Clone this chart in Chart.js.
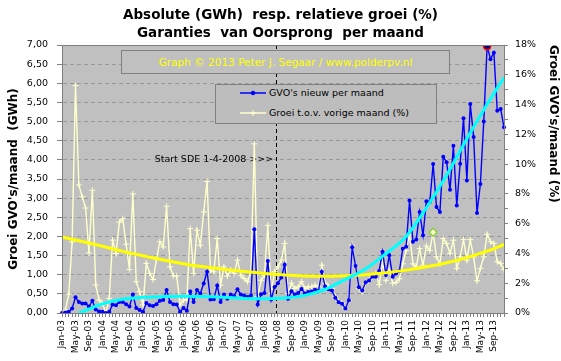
<!DOCTYPE html>
<html><head><meta charset="utf-8">
<script src="https://cdn.jsdelivr.net/npm/chart.js@4"></script>
<style>
html,body{margin:0;padding:0;background:#fff;}
#wrap{position:relative;width:561px;height:361px;}
canvas{display:block;}
.box{position:absolute;border:1px solid #808080;box-sizing:border-box;font-family:'DejaVu Sans',sans-serif;background:#c0c0c0;}
#wm{left:121px;top:50px;width:329px;height:24px;color:#ffff00;font-size:10.5px;text-align:center;line-height:22px;white-space:nowrap;}
#lg{left:215px;top:84px;width:222px;height:40px;background:#bdbdbd;font-size:9.5px;color:#000;}
.row{position:absolute;left:0;width:100%;height:14px;line-height:14px;}
.row svg{position:absolute;left:24px;top:0;}
.row span{position:absolute;left:53px;white-space:nowrap;}
</style></head>
<body><div id="wrap"><canvas id="c" width="561" height="361"></canvas>
<div id="wm" class="box">Graph © 2013 Peter J. Segaar / www.polderpv.nl</div>
<div id="lg" class="box">
 <div class="row" style="top:1px"><svg width="28" height="14"><line x1="0" y1="7" x2="26" y2="7" stroke="#0000ff" stroke-width="1.5"/><circle cx="13" cy="7" r="2.2" fill="#0000ff"/></svg><span>GVO's nieuw per maand</span></div>
 <div class="row" style="top:21px"><svg width="28" height="14"><line x1="0" y1="7" x2="26" y2="7" stroke="#ffffcc" stroke-width="1.5"/><line x1="10" y1="7" x2="16" y2="7" stroke="#ffffcc" stroke-width="1"/><line x1="13" y1="4" x2="13" y2="10" stroke="#ffffcc" stroke-width="1"/></svg><span>Groei t.o.v. vorige maand (%)</span></div>
</div>
</div>
<script>
// ---- categories ----
const MONTHS = ['Jan','Feb','Mar','Apr','May','Jun','Jul','Aug','Sep','Oct','Nov','Dec'];
const YEARS = ['03','04','05','06','07','08','09','10','11','12','13'];
const categories = YEARS.flatMap(y => MONTHS.map(m => m + '-' + y));

// ---- GVO's nieuw per maand (GWh), left axis ----
const gvoNew = [
 0.00,0.01,0.03,0.12,0.41,0.29,0.25,0.25,0.17,0.32,
 0.09,0.04,0.03,0.00,0.03,0.22,0.20,0.29,0.29,0.23,
 0.17,0.48,0.13,0.08,0.03,0.26,0.20,0.18,0.23,0.32,
 0.34,0.60,0.29,0.23,0.22,0.03,0.13,0.06,0.56,0.29,
 0.60,0.51,0.77,1.08,0.35,0.36,0.72,0.29,0.48,0.37,
 0.48,0.44,0.62,0.48,0.46,0.42,0.46,2.19,0.22,0.49,
 0.52,1.36,0.35,0.68,0.78,0.93,1.26,0.37,0.57,0.48,
 0.52,0.63,0.51,0.55,0.56,0.61,0.58,1.08,0.69,0.62,
 0.59,0.40,0.28,0.24,0.12,0.33,1.72,1.23,0.67,0.59,
 0.80,0.85,0.95,0.95,1.10,1.60,0.99,1.51,0.95,1.03,
 1.10,1.68,1.73,2.94,1.86,1.92,2.64,2.03,2.92,2.90,
 3.89,2.77,2.64,4.08,3.94,3.22,4.37,2.81,3.90,5.09,
 3.46,5.46,4.60,2.61,3.37,5.00,6.97,6.63,6.80,5.28,
 5.33,4.85];

// ---- Groei t.o.v. vorige maand (%), right axis ----
const growthPct = [
 0.00,0.20,1.27,4.78,15.27,8.60,7.80,7.05,4.04,8.24,
 1.88,0.87,0.65,0.00,0.98,4.89,4.00,6.10,6.34,4.62,
 2.92,8.00,2.10,1.43,0.54,3.33,2.66,2.25,3.60,4.78,
 4.44,7.17,3.10,2.50,2.50,0.54,0.87,0.87,5.67,2.66,
 5.56,4.55,6.79,8.84,2.88,2.77,5.00,1.87,3.10,2.48,
 2.88,2.66,3.55,2.54,2.32,2.10,2.77,11.36,1.09,2.20,
 2.54,5.89,1.32,2.77,3.10,3.55,4.67,1.32,2.00,1.65,
 1.76,2.10,1.65,1.76,1.76,1.87,1.76,3.21,2.00,1.76,
 1.65,1.09,0.76,0.65,0.31,0.87,4.55,3.10,1.65,1.43,
 2.00,2.20,2.43,2.66,1.90,3.40,2.20,2.88,2.00,2.05,
 2.30,3.30,4.20,5.30,3.30,3.10,4.33,3.20,4.50,4.20,
 5.42,3.77,3.30,5.00,4.67,4.00,4.89,3.00,3.77,4.93,
 3.55,4.93,3.77,2.17,3.00,3.77,5.29,4.78,4.67,3.44,
 3.33,2.92];

// ---- trend lines ----
const growthTrendMonths = ['Jan-03','Jul-03','Jan-04','Jul-04','Jan-05','Jul-05','Jan-06','Jul-06','Jan-07','Jul-07','Jan-08','Jul-08','Jan-09','Jul-09','Jan-10','Jul-10','Jan-11','Jul-11','Jan-12','Jul-12','Jan-13','Jul-13','Dec-13'];
const growthTrendValues = [5.10,4.80,4.48,4.14,3.84,3.56,3.31,3.10,2.93,2.78,2.65,2.55,2.49,2.47,2.50,2.57,2.70,2.88,3.10,3.37,3.72,4.15,4.60];
const gvoTrendMonths = ['Jun-03','Jan-04','Jul-04','Jan-05','Jul-05','Jan-06','Jul-06','Jan-07','Jul-07','Jan-08','Jul-08','Jan-09','Jul-09','Jan-10','Jul-10','Jan-11','Jul-11','Jan-12','Jul-12','Jan-13','Jul-13','Dec-13'];
const gvoTrendValues = [0.00,0.24,0.36,0.41,0.43,0.44,0.43,0.41,0.38,0.37,0.39,0.46,0.62,0.88,1.15,1.55,2.00,2.75,3.60,4.55,5.45,6.15];

// ---- annotations ----
const SDE_MONTH = 'Apr-08';
const SDE_TEXT = 'Start SDE 1-4-2008 >>>';
const SDE_TEXT_LEVEL = 4.0;
const HIGHLIGHT_GROWTH_MONTH = 'Mar-12';

const maxIdx = gvoNew.indexOf(Math.max(...gvoNew));
const hlIdx = categories.indexOf(HIGHLIGHT_GROWTH_MONTH);
const FONT = "'DejaVu Sans', sans-serif";
Chart.defaults.font.family = FONT;
Chart.defaults.color = '#000';

const decor = {
  id: 'decor',
  beforeDraw(chart) {
    const {ctx, chartArea: a} = chart;
    ctx.save();
    ctx.fillStyle = '#c0c0c0';
    ctx.fillRect(a.left, a.top, a.right - a.left, a.bottom - a.top);
    ctx.restore();
  },
  beforeDatasetsDraw(chart) {
    const {ctx, chartArea: a, scales} = chart;
    const i = categories.indexOf(SDE_MONTH);
    const px = (scales.x.getPixelForValue(i) + scales.x.getPixelForValue(i + 1)) / 2;
    ctx.save();
    ctx.strokeStyle = '#000';
    ctx.lineWidth = 1;
    ctx.setLineDash([4, 3]);
    ctx.beginPath();
    ctx.moveTo(Math.round(px) + 0.5, a.top);
    ctx.lineTo(Math.round(px) + 0.5, a.bottom);
    ctx.stroke();
    ctx.setLineDash([]);
    ctx.fillStyle = '#000';
    ctx.font = '9.5px ' + FONT;
    ctx.textAlign = 'right';
    ctx.textBaseline = 'middle';
    ctx.fillText(SDE_TEXT, px - 3, scales.y.getPixelForValue(SDE_TEXT_LEVEL));
    ctx.restore();
  },
  afterDraw(chart) {
    const {ctx, chartArea: a} = chart;
    ctx.save();
    ctx.strokeStyle = '#808080';
    ctx.lineWidth = 1;
    ctx.strokeRect(Math.round(a.left) + 0.5, Math.round(a.top) + 0.5, Math.round(a.right - a.left), Math.round(a.bottom - a.top));
    ctx.restore();
  }
};

new Chart(document.getElementById('c'), {
  type: 'line',
  data: {
    labels: categories,
    datasets: [
      {
        label: "GVO's nieuw per maand",
        data: gvoNew,
        yAxisID: 'y',
        borderColor: '#0000ff',
        backgroundColor: '#0000ff',
        borderWidth: 1.4,
        pointRadius: c => c.dataIndex === maxIdx ? 3.5 : 2,
        pointBackgroundColor: c => c.dataIndex === maxIdx ? '#000080' : '#0000ff',
        pointBorderColor: c => c.dataIndex === maxIdx ? '#ff0000' : '#0000ff',
        pointBorderWidth: c => c.dataIndex === maxIdx ? 1.5 : 0,
        order: 2
      },
      {
        label: 'Groei t.o.v. vorige maand (%)',
        data: growthPct,
        yAxisID: 'y1',
        borderColor: '#ffffcc',
        borderWidth: 1.4,
        pointStyle: c => c.dataIndex === hlIdx ? 'rectRot' : 'cross',
        pointRadius: c => c.dataIndex === hlIdx ? 4 : 3,
        pointBorderColor: c => c.dataIndex === hlIdx ? '#88cc44' : '#ffffcc',
        pointBackgroundColor: '#ffffcc',
        pointBorderWidth: c => c.dataIndex === hlIdx ? 1.5 : 1,
        order: 3
      },
      {
        label: 'trend groei',
        data: growthTrendMonths.map((m, k) => ({x: m, y: growthTrendValues[k]})),
        yAxisID: 'y1',
        borderColor: '#ffff00',
        borderWidth: 3,
        pointRadius: 0,
        cubicInterpolationMode: 'monotone',
        order: 1
      },
      {
        label: 'trend GVO',
        data: gvoTrendMonths.map((m, k) => ({x: m, y: gvoTrendValues[k]})),
        yAxisID: 'y',
        borderColor: '#00ffff',
        borderWidth: 3,
        pointRadius: 0,
        cubicInterpolationMode: 'monotone',
        order: 0
      }
    ]
  },
  options: {
    responsive: false,
    animation: false,
    devicePixelRatio: 1,
    events: [],
    layout: {padding: 0},
    plugins: {
      legend: {display: false},
      tooltip: {enabled: false},
      title: {
        display: true,
        text: ['Absolute (GWh)  resp. relatieve groei (%)', 'Garanties  van Oorsprong  per maand'],
        color: '#000',
        font: {family: FONT, size: 13.5, weight: 'bold', lineHeight: 18 / 13.5},
        padding: {top: 6, bottom: 3}
      }
    },
    scales: {
      x: {
        type: 'category',
        offset: false,
        grid: {display: true, drawOnChartArea: false, drawTicks: true, tickLength: 4, color: '#808080', tickColor: '#808080'},
        border: {display: true, color: '#808080'},
        ticks: {
          autoSkip: false, minRotation: 90, maxRotation: 90, padding: 3,
          font: {family: FONT, size: 9},
          color: '#000',
          callback: function (v, i) { return i % 4 === 0 ? this.getLabelForValue(v) : ''; }
        },
        afterFit: s => { s.height = 48; }
      },
      y: {
        position: 'left',
        min: 0, max: 7,
        grid: {color: '#999999', tickColor: '#808080', tickLength: 5, lineWidth: 1},
        border: {display: true, color: '#808080', dash: [4, 3]},
        ticks: {
          stepSize: 0.5, padding: 9,
          font: {family: FONT, size: 9.5}, color: '#000',
          callback: v => v.toFixed(2).replace('.', ',')
        },
        title: {
          display: true, text: "Groei GVO's/maand  (GWh)", color: '#000',
          font: {family: FONT, size: 12, weight: 'bold'},
          padding: {top: 7, bottom: 0}
        },
        afterFit: s => { s.width = 62; }
      },
      y1: {
        position: 'right',
        min: 0, max: 18,
        grid: {drawOnChartArea: false, tickColor: '#808080', tickLength: 4},
        border: {display: true, color: '#808080'},
        ticks: {
          stepSize: 1, padding: 7,
          font: {family: FONT, size: 9.5}, color: '#000',
          callback: v => (v % 2 === 0 ? v + '%' : '')
        },
        title: {
          display: true, text: "Groei GVO's/maand (%)", color: '#000', align: 'end',
          font: {family: FONT, size: 12, weight: 'bold'},
          padding: {top: 1, bottom: 0}
        },
        afterFit: s => { s.width = 57; }
      }
    }
  },
  plugins: [decor]
});
</script>
</body></html>
